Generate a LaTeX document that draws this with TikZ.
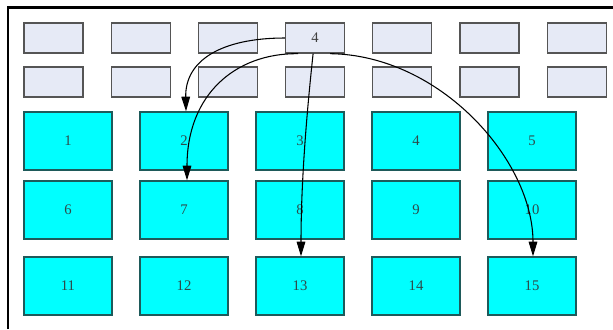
\documentclass[tikz,border=0pt]{standalone}
\usepackage{fontspec}
\setmainfont{Liberation Serif}
\usetikzlibrary{arrows.meta,calc}
\definecolor{topfill}{HTML}{E6EAF6}
\definecolor{topdraw}{HTML}{555555}
\definecolor{cyfill}{HTML}{00FFFF}
\definecolor{cydraw}{HTML}{1E5A5A}
\definecolor{txt}{HTML}{2E4A4A}
\begin{document}
\begin{tikzpicture}[x=0.75pt,y=-0.75pt,
  topbox/.style={draw=topdraw,fill=topfill,line width=1pt,minimum width=44.25pt,minimum height=22.5pt,inner sep=0pt,text=black!75,font=\fontsize{11}{13}\selectfont},
  cybox/.style={draw=cydraw,fill=cyfill,line width=1pt,minimum width=66pt,minimum height=43.5pt,inner sep=0pt,text=txt,font=\fontsize{11}{13}\selectfont},
  edge/.style={draw=black,line width=0.8pt,-{Triangle[length=11pt,width=6.5pt]}},
  frame/.style={draw=black,line width=1.8pt}]
\useasboundingbox (0,0) rectangle (613,329);
% frame (left and top edges visible)
\draw[frame] (8,329) -- (8,7.5) -- (613,7.5);
% top rows
\foreach \i in {1,...,7}{
  \pgfmathsetmacro{\xx}{53.5+87.2*(\i-1)}
  \ifnum\i=4
    \node[topbox] (t\i) at (\xx,38) {4};
  \else
    \node[topbox] (t\i) at (\xx,38) {};
  \fi
  \pgfmathtruncatemacro{\j}{\i+7}
  \node[topbox] (t\j) at (\xx,82) {};
}
% cyan grid
\foreach \r/\yy in {0/141,1/210,2/286}{
  \foreach \c in {1,...,5}{
    \pgfmathtruncatemacro{\n}{\r*5+\c}
    \pgfmathsetmacro{\xx}{68+116*(\c-1)}
    \node[cybox] (c\n) at (\xx,\yy) {\n};
  }
}
% edges
\draw[edge] (t4.west) .. controls (222,38) and (185,60) .. ($(c2.north)+(2,0)$);
\draw[edge] ($(t4.south)+(-17,0)$) .. controls (235,53) and (187,95) .. ($(c7.north)+(3,0)$);
\draw[edge] ($(t4.south)+(-2,0)$) .. controls (307,110) and (301,180) .. ($(c13.north)+(1,0)$);
\draw[edge] ($(t4.south)+(15,0)$) .. controls (440,55) and (533,160) .. ($(c15.north)+(1,0)$);
\end{tikzpicture}
\end{document}
